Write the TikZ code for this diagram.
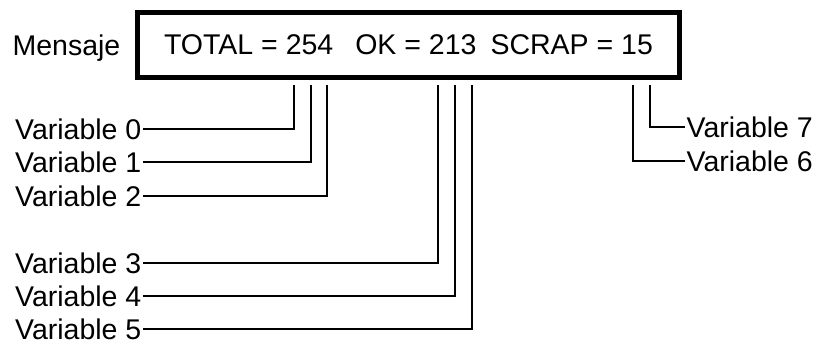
\documentclass[tikz,border=0pt]{standalone}
\usepackage{fontspec}
\setmainfont{Liberation Sans}
\usepackage{tikz}

\begin{document}
\begin{tikzpicture}[
  x=1pt, y=-1pt,
  font=\fontsize{28.5}{34}\selectfont,
  line width=1.3pt,
  every node/.style={inner sep=1pt},
  display/.style={draw, line width=4.5pt, minimum width=542pt, minimum height=65pt, inner sep=0pt},
  varleft/.style={anchor=east, yshift=1pt},
  varright/.style={anchor=west, yshift=1pt}
]
  \useasboundingbox (0,0) rectangle (817,343);

  % message box
  \node[display] (msg) at (408.5,45) {TOTAL = 254\hspace{22pt}OK = 213\hspace{14pt}SCRAP = 15};
  \node[anchor=base east, inner sep=0pt] (title) at (121,55) {Mensaje};

  % ends under the box
  \coordinate (c0) at (294,85);
  \coordinate (c1) at (311,85);
  \coordinate (c2) at (327,85);
  \coordinate (c3) at (438,85);
  \coordinate (c4) at (455,85);
  \coordinate (c5) at (472,85);
  \coordinate (c6) at (633,85);
  \coordinate (c7) at (650,85);

  \node[varleft] (v0) at (143,130) {Variable 0};
  \node[varleft] (v1) at (143,163) {Variable 1};
  \node[varleft] (v2) at (143,197) {Variable 2};
  \node[varleft] (v3) at (143,264) {Variable 3};
  \node[varleft] (v4) at (143,297) {Variable 4};
  \node[varleft] (v5) at (143,330) {Variable 5};
  \node[varright] (v6) at (685,162) {Variable 6};
  \node[varright] (v7) at (685,128) {Variable 7};

  \draw (v0.east) -| (c0);
  \draw (v1.east) -| (c1);
  \draw (v2.east) -| (c2);
  \draw (v3.east) -| (c3);
  \draw (v4.east) -| (c4);
  \draw (v5.east) -| (c5);
  \draw (v6.west) -| (c6);
  \draw (v7.west) -| (c7);
\end{tikzpicture}
\end{document}
